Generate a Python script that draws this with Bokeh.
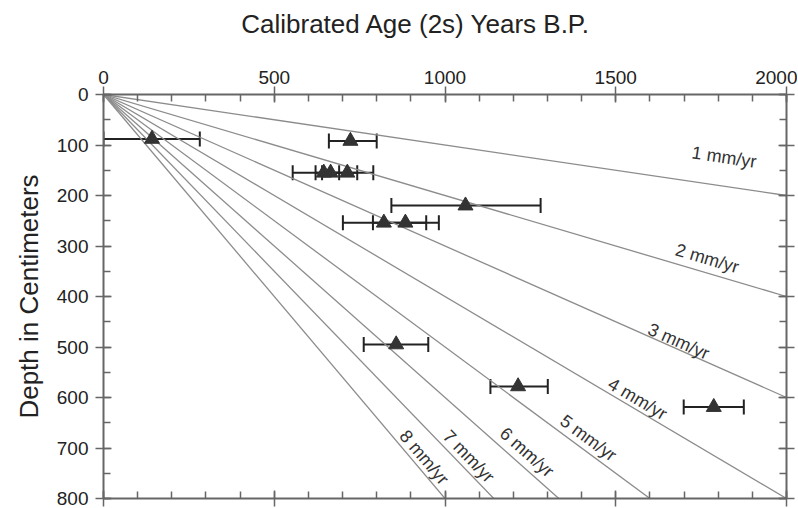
import math
from bokeh.plotting import figure
from bokeh.models import (Range1d, FixedTicker, LinearAxis, ColumnDataSource,
                          Whisker, TeeHead)
from bokeh.core.properties import value
from bokeh.embed import file_html
from bokeh.resources import INLINE

# ---- data ----
ages = [142, 723, 645, 665, 714, 1060, 821, 884, 857, 1214, 1787]
depths = [88, 92, 155, 155, 155, 220, 254, 254, 495, 578, 619]
age_lo = [0, 660, 554, 640, 621, 843, 701, 789, 762, 1133, 1699]
age_hi = [282, 800, 743, 690, 790, 1280, 945, 982, 951, 1301, 1875]

rates = [1, 2, 3, 4, 5, 6, 7, 8]          # mm/yr
rate_labels = ["1 mm/yr", "2 mm/yr", "3 mm/yr", "4 mm/yr",
               "5 mm/yr", "6 mm/yr", "7 mm/yr", "8 mm/yr"]

x_ticks = [0, 500, 1000, 1500, 2000]
x_minor = list(range(0, 2001, 100))
y_ticks = list(range(0, 801, 100))
y_minor = list(range(0, 801, 50))

x_title = "Calibrated Age (2s) Years B.P."
y_title = "Depth in Centimeters"

# ---- layout / style (not data) ----
label_age = [1813, 1777, 1690, 1549, 1420, 1235, 1066, 934]
label_dx = [0, -6, -6, 0, -6, -5, -6, -6]
label_dy = [-19, -6, 0, 0, -7, -9, -8, -8]
TITLE_PAD = "\u00a0" * 8   # shifts the centred title left, as in the original

FONT = "Liberation Sans"
AX = "#666666"
TXT = "#222222"

W, H = 797, 508
BL, BR, BT, BB = 103, 11, 94, 10
FW, FH = W - BL - BR, H - BT - BB

p = figure(width=W, height=H, x_range=Range1d(0, 2000), y_range=Range1d(800, 0),
           x_axis_location="above", output_backend="svg", toolbar_location=None,
           min_border_left=BL, min_border_right=BR, min_border_top=BT,
           min_border_bottom=BB)
p.xgrid.visible = False
p.ygrid.visible = False
p.outline_line_color = None


def style_axis(ax, ticks, show_labels):
    ax.axis_line_color = AX
    ax.axis_line_width = 2
    ax.major_tick_line_color = AX
    ax.major_tick_line_width = 1.5
    ax.minor_tick_line_color = AX
    ax.minor_tick_line_width = 1.5
    ax.major_tick_in = 8
    ax.major_tick_out = 8
    ax.minor_tick_in = 7
    ax.minor_tick_out = 0
    ax.major_label_text_font = FONT
    ax.major_label_text_font_size = "19px"
    ax.major_label_text_color = TXT
    if not show_labels:
        ax.major_label_overrides = {t: "" for t in ticks}
        ax.major_label_standoff = 0


xa = p.xaxis[0]
xa.ticker = FixedTicker(ticks=x_ticks, minor_ticks=x_minor)
style_axis(xa, x_ticks, True)
xa.major_label_standoff = 3
xa.axis_label = x_title + TITLE_PAD
xa.axis_label_text_font = FONT
xa.axis_label_text_font_size = "26px"
xa.axis_label_text_font_style = "normal"
xa.axis_label_text_color = TXT
xa.axis_label_standoff = 29

ya = p.yaxis[0]
ya.ticker = FixedTicker(ticks=y_ticks, minor_ticks=y_minor)
style_axis(ya, y_ticks, True)
ya.major_label_standoff = 7
ya.axis_label = y_title
ya.axis_label_text_font = FONT
ya.axis_label_text_font_size = "26px"
ya.axis_label_text_font_style = "normal"
ya.axis_label_text_color = TXT
ya.axis_label_standoff = 10

xb = LinearAxis(ticker=FixedTicker(ticks=x_ticks, minor_ticks=x_minor))
style_axis(xb, x_ticks, False)
p.add_layout(xb, "below")
yr = LinearAxis(ticker=FixedTicker(ticks=y_ticks, minor_ticks=y_minor))
style_axis(yr, y_ticks, False)
p.add_layout(yr, "right")

# rate lines: depth(cm) = rate(mm/yr) * age / 10
p.multi_line(xs=[[0, 2000] for r in rates], ys=[[0, r * 200] for r in rates],
             line_color="#8c8c8c", line_width=1.3)

# rate labels along the lines
kx = FW / 2000.0
ky = FH / 800.0
lab_src = ColumnDataSource(dict(
    x=label_age,
    y=[r * a / 10.0 for r, a in zip(rates, label_age)],
    t=rate_labels,
    dx=label_dx, dy=label_dy,
    ang=[-math.atan(r * 0.1 * ky / kx) for r in rates]))
p.text(x="x", y="y", text="t", angle="ang", x_offset="dx", y_offset="dy",
       source=lab_src, text_align="center", text_baseline="bottom",
       text_font=value(FONT), text_font_size="18px", text_color="#333333")

# error bars
src = ColumnDataSource(dict(age=ages, depth=depths, lo=age_lo, hi=age_hi))
wh = Whisker(source=src, base="depth", lower="lo", upper="hi", dimension="width",
             line_color="#222222", line_width=2,
             lower_head=TeeHead(size=15, line_color="#222222", line_width=2),
             upper_head=TeeHead(size=15, line_color="#222222", line_width=2))
p.add_layout(wh)

p.scatter(x="age", y="depth", source=src, marker="triangle", size=15,
          fill_color="#333333", line_color="#333333")

open("out.html", "w").write(file_html(p, INLINE))
